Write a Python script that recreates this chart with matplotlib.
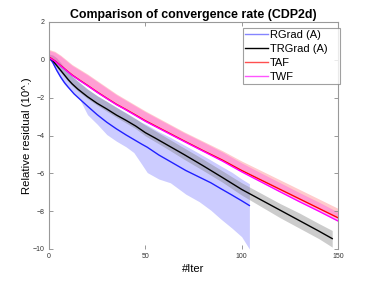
import matplotlib
matplotlib.use("Agg")
import matplotlib.pyplot as plt

plt.rcParams['font.family'] = ['Liberation Sans', 'DejaVu Sans']

# RGrad (A)
it_rg = [0, 2, 4, 6, 8, 10, 13, 16, 20, 25, 30, 35, 40, 44, 48, 51, 57, 63, 71, 78, 84, 89, 95, 100, 104]
rg = [0.15, -0.15, -0.55, -0.9, -1.2, -1.45, -1.8, -2.08, -2.45, -2.9, -3.3, -3.65, -3.97, -4.21,
      -4.45, -4.62, -5.03, -5.38, -5.85, -6.2, -6.5, -6.8, -7.15, -7.45, -7.7]
rg_hi = [0.3, 0.25, 0.1, -0.15, -0.4, -0.65, -0.95, -1.2, -1.55, -1.9, -2.2, -2.5, -2.8, -3.05,
         -3.3, -3.45, -3.8, -4.1, -4.55, -4.95, -5.3, -5.6, -5.95, -6.3, -6.55]
rg_lo = [0.1, -0.25, -0.65, -1.0, -1.3, -1.5, -1.8, -2.1, -2.9, -3.4, -3.95, -4.3, -4.6, -4.9,
         -5.5, -5.96, -6.3, -6.5, -7.1, -7.5, -7.95, -8.4, -8.9, -9.35, -10.0]

# TRGrad (A)
it_tr = [0, 2, 4, 6, 8, 10, 12, 15, 20, 25, 30, 35, 40, 45, 50, 55, 60, 70, 80, 90, 100, 110,
         120, 130, 140, 147]
tr = [0.15, -0.05, -0.3, -0.55, -0.8, -1.05, -1.27, -1.55, -1.95, -2.3, -2.6, -2.92, -3.2, -3.5,
      -3.85, -4.13, -4.42, -5.0, -5.6, -6.22, -6.85, -7.4, -7.95, -8.5, -9.05, -9.45]
tr_hi = [0.3, 0.25, 0.1, -0.15, -0.4, -0.65, -0.87, -1.15, -1.55, -1.9, -2.2, -2.52, -2.82,
         -3.12, -3.45, -3.75, -4.05, -4.65, -5.25, -5.87, -6.5, -7.05, -7.6, -8.1, -8.65, -9.02]
tr_lo = [0.05, -0.15, -0.4, -0.65, -0.9, -1.15, -1.37, -1.65, -2.05, -2.4, -2.72, -3.04, -3.34,
         -3.64, -4.02, -4.32, -4.62, -5.25, -5.85, -6.47, -7.15, -7.75, -8.35, -8.9, -9.45, -9.9]

# TAF / TWF
it_af = [0, 3, 6, 9, 12, 16, 20, 25, 30, 35, 40, 45, 50, 60, 70, 80, 90, 100, 110, 120, 130, 140, 150]
taf = [0.15, -0.05, -0.3, -0.55, -0.8, -1.08, -1.35, -1.7, -2.03, -2.35, -2.63, -2.92, -3.22,
       -3.75, -4.28, -4.8, -5.3, -5.85, -6.35, -6.85, -7.35, -7.85, -8.35]
taf_hi = [0.55, 0.45, 0.25, 0.0, -0.25, -0.5, -0.75, -1.1, -1.45, -1.8, -2.1, -2.4, -2.7,
          -3.25, -3.8, -4.3, -4.8, -5.35, -5.85, -6.35, -6.85, -7.35, -7.85]
twf = [0.12, -0.07, -0.32, -0.57, -0.82, -1.1, -1.37, -1.72, -2.05, -2.37, -2.65, -2.95, -3.25,
       -3.78, -4.31, -4.83, -5.35, -5.92, -6.45, -6.98, -7.5, -8.0, -8.52]
twf_hi = [0.5, 0.4, 0.2, -0.05, -0.3, -0.55, -0.8, -1.15, -1.5, -1.85, -2.15, -2.45, -2.75,
          -3.3, -3.85, -4.35, -4.87, -5.45, -5.98, -6.5, -7.02, -7.52, -8.05]

fig = plt.figure(figsize=(3.74, 2.81), dpi=100)
ax = fig.add_axes([49 / 374, 32 / 281, 289 / 374, 227 / 281])

ax.fill_between(it_rg, rg_lo, rg_hi, color='#ccccff', lw=0)
ax.fill_between(it_tr, tr_lo, tr_hi, color='#808080', alpha=0.4, lw=0)
ax.fill_between(it_af, taf, taf_hi, color='#ff8080', lw=0, alpha=0.4)
ax.fill_between(it_af, twf, twf_hi, color='#ff66dd', lw=0, alpha=0.45)

ax.plot(it_rg, rg, color='#2020ff', lw=1.0)
ax.plot(it_tr, tr, color='black', lw=1.0)
ax.plot(it_af, taf, color='#ff0000', lw=1.0)
ax.plot(it_af, twf, color='#ff00ff', lw=1.0)

# legend uses lighter line colours
h = [plt.Line2D([], [], color='#8585ff', lw=1),
     plt.Line2D([], [], color='black', lw=1),
     plt.Line2D([], [], color='#ff5050', lw=1),
     plt.Line2D([], [], color='#ff55ff', lw=1)]
leg = ax.legend(h, ['RGrad (A)', 'TRGrad (A)', 'TAF', 'TWF'], loc='upper left',
                bbox_to_anchor=(0.671, 0.70, 0.336, 0.274), mode='expand',
                fontsize=8, frameon=True, fancybox=False,
                handlelength=2.05, handletextpad=0.2, labelspacing=0.35, borderpad=0.2,
                borderaxespad=0)
leg.get_frame().set_edgecolor('#888888')
leg.get_frame().set_linewidth(0.8)

ax.set_xlim(0, 150)
ax.set_ylim(-10, 2)
ax.set_xticks([0, 50, 100, 150])
ax.set_yticks([-10, -8, -6, -4, -2, 0, 2])
ax.tick_params(direction='in', length=3, width=0.6, labelsize=5, colors='#888888',
               labelcolor='#333333', top=True, right=True, pad=3)
for s in ['left', 'top', 'right']:
    ax.spines[s].set_color('#999999')
    ax.spines[s].set_linewidth(0.8)
ax.spines['bottom'].set_visible(False)

ax.set_title('Comparison of convergence rate (CDP2d)', fontsize=8.9, fontweight='bold', pad=3)
ax.set_xlabel('#Iter', fontsize=8, labelpad=3)
ax.set_ylabel('Relative residual (10^.)', fontsize=8.2, labelpad=1)

fig.savefig('out.png', dpi=100)
